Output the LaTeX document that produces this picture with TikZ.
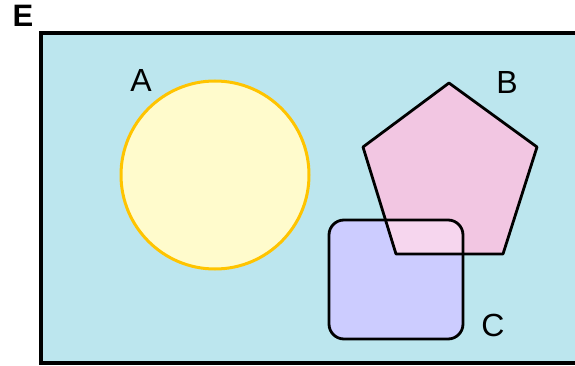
\documentclass[tikz,border=0pt]{standalone}
\usepackage{fontspec}
\setmainfont{Liberation Sans}
\definecolor{universe}{RGB}{188,230,238}
\definecolor{setA}{RGB}{255,251,204}
\definecolor{setAline}{RGB}{255,196,0}
\definecolor{setB}{RGB}{242,198,226}
\definecolor{setC}{RGB}{204,204,255}
\definecolor{setBC}{RGB}{246,214,238}
\tikzset{
  setlabel/.style={font=\fontsize{32}{38}\selectfont, inner sep=0pt},
  setline/.style={draw=black, line width=2.8pt, line join=round}
}
\begin{document}
\begin{tikzpicture}[x=1pt, y=-1pt]
\useasboundingbox (0,0) rectangle (575,366);
% Universe
\fill[universe] (41,33) rectangle (575,363);
\draw[line width=3.4pt] (575,33) -- (41,33) -- (41,363) -- (575,363);

% Sets
\draw[fill=setA, draw=setAline, line width=3pt] (215,175) circle (94);
\fill[setC] (329,220) [rounded corners=15pt] rectangle (463,339);
\fill[setB] (449,83) -- (537,147) -- (503,254) -- (396,254) -- (363,147) -- cycle;
\begin{scope}
  \clip (449,83) -- (537,147) -- (503,254) -- (396,254) -- (363,147) -- cycle;
  \fill[setBC] (329,220) [rounded corners=15pt] rectangle (463,339);
\end{scope}
\draw[setline] (449,83) -- (537,147) -- (503,254) -- (396,254) -- (363,147) -- cycle;
\draw[setline, rounded corners=15pt] (329,220) rectangle (463,339);

% Labels
\node[setlabel, font=\fontsize{31}{36}\selectfont\bfseries] (labE) at (23,16) {E};
\node[setlabel] (labA) at (141,80) {A};
\node[setlabel] (labB) at (507,82) {B};
\node[setlabel] (labC) at (493,325) {C};
\end{tikzpicture}
\end{document}
